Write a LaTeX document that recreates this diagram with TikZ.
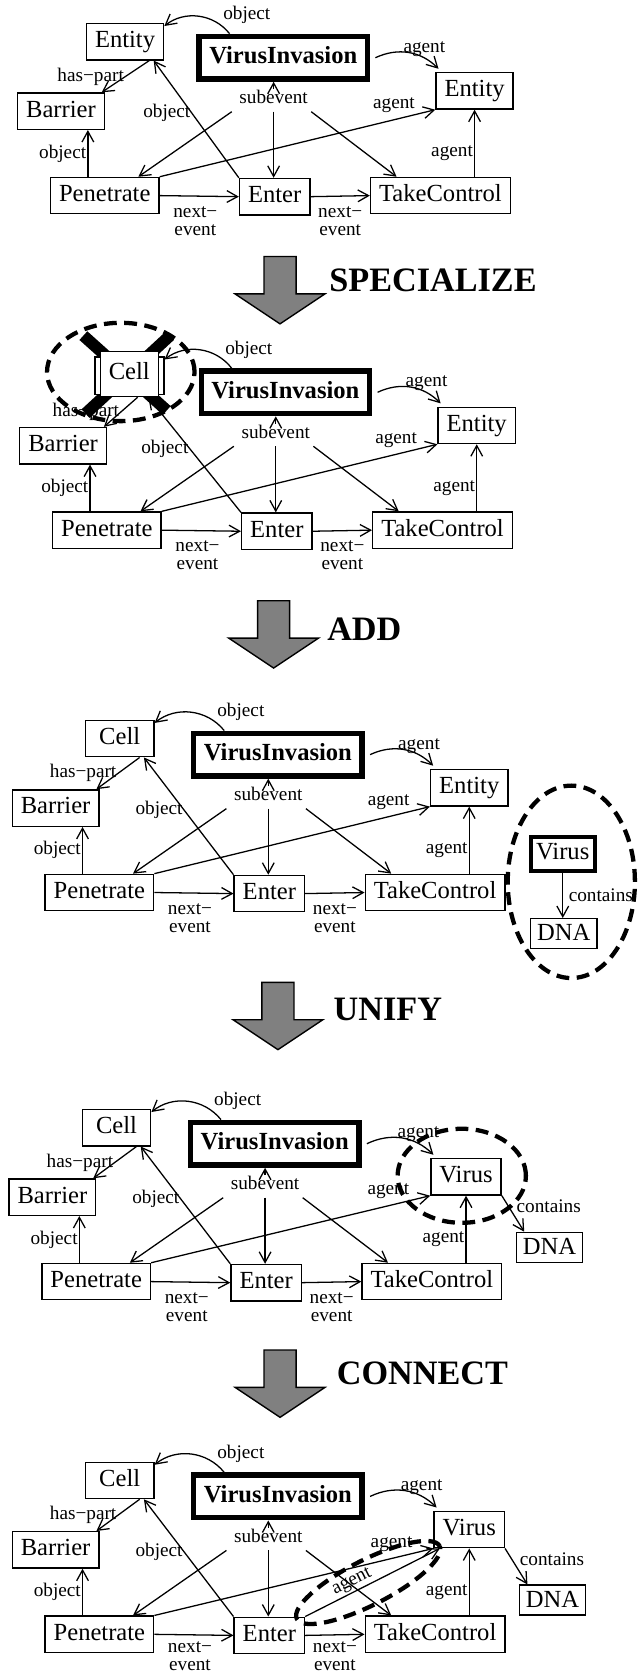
\documentclass[tikz,border=0pt]{standalone}
\usepackage{fontspec}
\setmainfont{Liberation Serif}
\usetikzlibrary{arrows.meta}

\begin{document}
\begin{tikzpicture}[x=1pt,y=-1pt,
    >={Straight Barb[length=10pt,width=11pt]},
    box/.style={draw, fill=white, line width=1.3pt, font=\fontsize{23}{26}\selectfont,
      inner xsep=8pt, inner ysep=2pt, minimum height=34pt, text height=16pt, text depth=5pt},
    bigbox/.style={box, line width=5pt, font=\bfseries\fontsize{23}{26}\selectfont,
      inner xsep=9.5pt, minimum height=40pt},
    dnabox/.style={box, inner xsep=6pt, minimum height=28pt, text depth=3pt},
    lbl/.style={font=\fontsize{18}{17}\selectfont, inner sep=1pt},
    arr/.style={->, line width=1.2pt},
    oval/.style={draw, line width=4pt, dash pattern=on 12pt off 7pt},
    xbar/.style={line width=11pt},
    blockarrow/.style={draw, line width=1.3pt, fill=gray},
    stage/.style={font=\bfseries\fontsize{32}{36}\selectfont, anchor=base west, inner sep=0pt}]

        \useasboundingbox (0,0) rectangle (600,1568);

        % first graph
        \begin{scope}[shift={(5,0)}]
          \node[box] (obj1) at (112,39) {Entity};
          \node[bigbox] (vi1) at (260,54) {VirusInvasion};
          \node[box] (agt1) at (439,85) {Entity};
          \node[box] (bar1) at (52,104) {Barrier};
          \node[box] (pen1) at (93,183) {Penetrate};
          \node[box] (ent1) at (252,184) {Enter};
          \node[box] (tc1) at (407,183) {TakeControl};
          \node[lbl] (sub1) at (251,91) {subevent};

          \draw[arr] ([xshift=31pt]vi1.north west) to[bend right=45] node[lbl,pos=0.15,anchor=south west] {object} ([yshift=-3pt]obj1.north east);
          \draw[arr] ([xshift=5pt]vi1.east) to[bend left=35] node[lbl,pos=0.75,above] {agent} ([shift={(3pt,3pt)}]agt1.north west);
          \draw[arr] ([xshift=-14pt]obj1.south east) -- node[lbl,anchor=east] {has−part} ([xshift=-3pt]bar1.north east);
          \draw[arr] (ent1.north west) -- node[lbl,pos=0.55,anchor=east] {object} ([xshift=-10pt]obj1.south east);
          \draw[arr] ([xshift=-16pt]bar1.south east |- pen1.north) -- node[lbl,anchor=east] {object} ([xshift=-16pt]bar1.south east);
          \draw[arr] (pen1.north east) -- node[lbl,pos=0.85,above=5pt] {agent} (agt1.south west);
          \draw[arr] (tc1.north -| agt1.south) -- node[lbl,pos=0.35,anchor=east] {agent} (agt1.south);
          \draw[arr] (sub1.north) -- (sub1.north |- vi1.south);
          \draw[arr] ([shift={(-6pt,-6pt)}]sub1.south west) -- ([xshift=-20pt]pen1.north east);
          \draw[arr] ([yshift=-6pt]sub1.south) -- (sub1.south |- ent1.north);
          \draw[arr] ([shift={(2pt,-6pt)}]sub1.south east) -- ([xshift=25pt]tc1.north west);
          \draw[arr] (pen1.east) -- node[lbl,pos=0.45,below=8pt,align=center] {next−\\event} (ent1.west);
          \draw[arr] (ent1.east) -- node[lbl,below=8pt,align=center] {next−\\event} (tc1.west);
        \end{scope}

        \draw[blockarrow, shift={(262,240)}] (-15,0) -- (15,0) -- (15,35) -- (42,35) -- (0,63) -- (-42,35) -- (-15,35) -- cycle;
        \node[stage] (specialize) at (308,273) {SPECIALIZE};

        % second graph
        \begin{scope}[shift={(7,313)}]
          \draw[xbar] (71,1) -- (149,71);
          \draw[xbar] (152,1) -- (73,74);
          \node[box, minimum width=64.5pt, minimum height=35pt] (old2) at (114,38.5) {};
          \node[box, minimum height=42pt] (obj2) at (114,37) {Cell};
          \node[bigbox] (vi2) at (260,54) {VirusInvasion};
          \node[box] (agt2) at (439,85) {Entity};
          \node[box] (bar2) at (52,104) {Barrier};
          \node[box] (pen2) at (93,183) {Penetrate};
          \node[box] (ent2) at (252,184) {Enter};
          \node[box] (tc2) at (407,183) {TakeControl};
          \node[lbl] (sub2) at (251,91) {subevent};

          \draw[arr] ([xshift=31pt]vi2.north west) to[bend right=45] node[lbl,pos=0.15,anchor=south west] {object} ([yshift=-3pt]old2.north east);
          \draw[arr] ([xshift=5pt]vi2.east) to[bend left=35] node[lbl,pos=0.75,above] {agent} ([shift={(3pt,3pt)}]agt2.north west);
          \draw[arr] ([xshift=-20pt]obj2.south east) -- node[lbl,anchor=east] {has−part} ([xshift=-3pt]bar2.north east);
          \draw[arr] (ent2.north west) -- node[lbl,pos=0.55,anchor=east] {object} ([xshift=-10pt]obj2.south east);
          \draw[arr] ([xshift=-16pt]bar2.south east |- pen2.north) -- node[lbl,anchor=east] {object} ([xshift=-16pt]bar2.south east);
          \draw[arr] (pen2.north east) -- node[lbl,pos=0.85,above=5pt] {agent} (agt2.south west);
          \draw[arr] (tc2.north -| agt2.south) -- node[lbl,pos=0.35,anchor=east] {agent} (agt2.south);
          \draw[arr] (sub2.north) -- (sub2.north |- vi2.south);
          \draw[arr] ([shift={(-6pt,-6pt)}]sub2.south west) -- ([xshift=-20pt]pen2.north east);
          \draw[arr] ([yshift=-6pt]sub2.south) -- (sub2.south |- ent2.north);
          \draw[arr] ([shift={(2pt,-6pt)}]sub2.south east) -- ([xshift=25pt]tc2.north west);
          \draw[arr] (pen2.east) -- node[lbl,pos=0.45,below=8pt,align=center] {next−\\event} (ent2.west);
          \draw[arr] (ent2.east) -- node[lbl,below=8pt,align=center] {next−\\event} (tc2.west);

          \draw[oval] (106,35) ellipse [x radius=69pt, y radius=46pt];
        \end{scope}

        \draw[blockarrow, shift={(256,562)}] (-15,0) -- (15,0) -- (15,35) -- (42,35) -- (0,63) -- (-42,35) -- (-15,35) -- cycle;
        \node[stage] (add) at (306,599) {ADD};

        % third graph
        \begin{scope}[shift={(0,652)}]
          \node[box, minimum width=64pt] (obj3) at (112,39) {Cell};
          \node[bigbox] (vi3) at (260,54) {VirusInvasion};
          \node[box] (agt3) at (439,85) {Entity};
          \node[box] (bar3) at (52,104) {Barrier};
          \node[box] (pen3) at (93,183) {Penetrate};
          \node[box] (ent3) at (252,184) {Enter};
          \node[box] (tc3) at (407,183) {TakeControl};
          \node[lbl] (sub3) at (251,91) {subevent};
          \node[box, line width=4pt, inner xsep=5pt, minimum height=32pt] (virus3) at (526.5,147) {Virus};
          \node[dnabox] (dna3) at (527.5,221.5) {DNA};

          \draw[arr] ([xshift=31pt]vi3.north west) to[bend right=45] node[lbl,pos=0.15,anchor=south west] {object} ([yshift=-3pt]obj3.north east);
          \draw[arr] ([xshift=5pt]vi3.east) to[bend left=35] node[lbl,pos=0.75,above] {agent} ([shift={(3pt,3pt)}]agt3.north west);
          \draw[arr] ([xshift=-14pt]obj3.south east) -- node[lbl,anchor=east] {has−part} ([xshift=-3pt]bar3.north east);
          \draw[arr] (ent3.north west) -- node[lbl,pos=0.55,anchor=east] {object} ([xshift=-10pt]obj3.south east);
          \draw[arr] ([xshift=-16pt]bar3.south east |- pen3.north) -- node[lbl,anchor=east] {object} ([xshift=-16pt]bar3.south east);
          \draw[arr] (pen3.north east) -- node[lbl,pos=0.85,above=5pt] {agent} (agt3.south west);
          \draw[arr] (tc3.north -| agt3.south) -- node[lbl,pos=0.35,anchor=east] {agent} (agt3.south);
          \draw[arr] (sub3.north) -- (sub3.north |- vi3.south);
          \draw[arr] ([shift={(-6pt,-6pt)}]sub3.south west) -- ([xshift=-20pt]pen3.north east);
          \draw[arr] ([yshift=-6pt]sub3.south) -- (sub3.south |- ent3.north);
          \draw[arr] ([shift={(2pt,-6pt)}]sub3.south east) -- ([xshift=25pt]tc3.north west);
          \draw[arr] (pen3.east) -- node[lbl,pos=0.45,below=8pt,align=center] {next−\\event} (ent3.west);
          \draw[arr] (ent3.east) -- node[lbl,below=8pt,align=center] {next−\\event} (tc3.west);
          \draw[arr] (virus3.south) -- node[lbl,right=4pt] {contains} (virus3.south |- dna3.north);

          \draw[oval] (534.5,173) ellipse [x radius=59.5pt, y radius=90pt];
        \end{scope}

        \draw[blockarrow, shift={(260,919)}] (-15,0) -- (15,0) -- (15,35) -- (42,35) -- (0,63) -- (-42,35) -- (-15,35) -- cycle;
        \node[stage] (unify) at (312,955) {UNIFY};

        % fourth graph
        \begin{scope}[shift={(-3,1016)}]
          \node[box, minimum width=64pt] (obj4) at (112,39) {Cell};
          \node[bigbox] (vi4) at (260,54) {VirusInvasion};
          \node[box] (agt4) at (439,85) {Virus};
          \node[box] (bar4) at (52,104) {Barrier};
          \node[box] (pen4) at (93,183) {Penetrate};
          \node[box] (ent4) at (252,184) {Enter};
          \node[box] (tc4) at (407,183) {TakeControl};
          \node[lbl] (sub4) at (251,91) {subevent};
          \node[dnabox] (dna4) at (517,151) {DNA};

          \draw[arr] ([xshift=31pt]vi4.north west) to[bend right=45] node[lbl,pos=0.15,anchor=south west] {object} ([yshift=-3pt]obj4.north east);
          \draw[arr] ([xshift=5pt]vi4.east) to[bend left=35] node[lbl,pos=0.75,above] {agent} ([shift={(3pt,3pt)}]agt4.north west);
          \draw[arr] ([xshift=-14pt]obj4.south east) -- node[lbl,anchor=east] {has−part} ([xshift=-3pt]bar4.north east);
          \draw[arr] (ent4.north west) -- node[lbl,pos=0.55,anchor=east] {object} ([xshift=-10pt]obj4.south east);
          \draw[arr] ([xshift=-16pt]bar4.south east |- pen4.north) -- node[lbl,anchor=east] {object} ([xshift=-16pt]bar4.south east);
          \draw[arr] (pen4.north east) -- node[lbl,pos=0.85,above=5pt] {agent} (agt4.south west);
          \draw[arr] (tc4.north -| agt4.south) -- node[lbl,pos=0.35,anchor=east] {agent} (agt4.south);
          \draw[arr] (sub4.north) -- (sub4.north |- vi4.south);
          \draw[arr] ([shift={(-6pt,-6pt)}]sub4.south west) -- ([xshift=-20pt]pen4.north east);
          \draw[arr] ([yshift=-6pt]sub4.south) -- (sub4.south |- ent4.north);
          \draw[arr] ([shift={(2pt,-6pt)}]sub4.south east) -- ([xshift=25pt]tc4.north west);
          \draw[arr] (pen4.east) -- node[lbl,pos=0.45,below=8pt,align=center] {next−\\event} (ent4.west);
          \draw[arr] (ent4.east) -- node[lbl,below=8pt,align=center] {next−\\event} (tc4.west);
          \draw[arr] (agt4.south east) -- node[lbl,pos=0.3,right=6pt] {contains} ([xshift=8pt]dna4.north west);

          \draw[oval] (435,84) ellipse [x radius=60pt, y radius=44pt];
        \end{scope}

        \draw[blockarrow, shift={(262,1263)}] (-15,0) -- (15,0) -- (15,35) -- (42,35) -- (0,63) -- (-42,35) -- (-15,35) -- cycle;
        \node[stage] (connect) at (315,1295) {CONNECT};

        % fifth graph
        \begin{scope}[shift={(0,1346)}]
          \node[box, minimum width=64pt] (obj5) at (112,39) {Cell};
          \node[bigbox] (vi5) at (260,54) {VirusInvasion};
          \node[box] (agt5) at (439,85) {Virus};
          \node[box] (bar5) at (52,104) {Barrier};
          \node[box] (pen5) at (93,183) {Penetrate};
          \node[box] (ent5) at (252,184) {Enter};
          \node[box] (tc5) at (407,183) {TakeControl};
          \node[lbl] (sub5) at (251,91) {subevent};
          \node[dnabox] (dna5) at (517,151) {DNA};

          \draw[arr] ([xshift=31pt]vi5.north west) to[bend right=45] node[lbl,pos=0.15,anchor=south west] {object} ([yshift=-3pt]obj5.north east);
          \draw[arr] ([xshift=5pt]vi5.east) to[bend left=35] node[lbl,pos=0.75,above] {agent} ([shift={(3pt,3pt)}]agt5.north west);
          \draw[arr] ([xshift=-14pt]obj5.south east) -- node[lbl,anchor=east] {has−part} ([xshift=-3pt]bar5.north east);
          \draw[arr] (ent5.north west) -- node[lbl,pos=0.55,anchor=east] {object} ([xshift=-10pt]obj5.south east);
          \draw[arr] ([xshift=-16pt]bar5.south east |- pen5.north) -- node[lbl,anchor=east] {object} ([xshift=-16pt]bar5.south east);
          \draw[arr] (pen5.north east) -- node[lbl,pos=0.85,above=5pt] {agent} (agt5.south west);
          \draw[arr] (tc5.north -| agt5.south) -- node[lbl,pos=0.35,anchor=east] {agent} (agt5.south);
          \draw[arr] (sub5.north) -- (sub5.north |- vi5.south);
          \draw[arr] ([shift={(-6pt,-6pt)}]sub5.south west) -- ([xshift=-20pt]pen5.north east);
          \draw[arr] ([yshift=-6pt]sub5.south) -- (sub5.south |- ent5.north);
          \draw[arr] ([shift={(2pt,-6pt)}]sub5.south east) -- ([xshift=25pt]tc5.north west);
          \draw[arr] (pen5.east) -- node[lbl,pos=0.45,below=5pt,align=center] {next−\\event} (ent5.west);
          \draw[arr] (ent5.east) -- node[lbl,below=5pt,align=center] {next−\\event} (tc5.west);
          \draw[arr] (agt5.south east) -- node[lbl,pos=0.3,right=6pt] {contains} ([xshift=8pt]dna5.north west);
          \draw[arr] (ent5.north east) -- node[lbl,pos=0.38,sloped,above] {agent} ([xshift=6pt]agt5.south west);

          \draw[oval] (344.5,134.5) ellipse [x radius=75pt, y radius=21pt, rotate=27];
        \end{scope}

      \end{tikzpicture}
\end{document}
